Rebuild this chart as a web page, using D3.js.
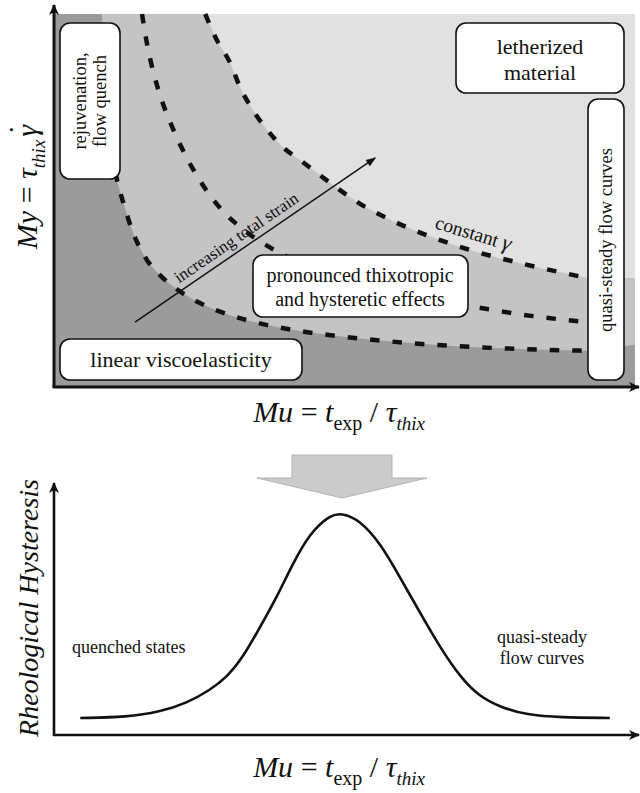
<!DOCTYPE html>
<html>
<head>
<meta charset="utf-8">
<script src="https://cdn.jsdelivr.net/npm/d3@7"></script>
<style>
  html, body { margin: 0; padding: 0; background: #fff; }
</style>
</head>
<body>
<svg id="chart" width="640" height="793"></svg>
<script>
// ---------- Regime map (upper panel), coordinates in (Mu, My) units ----------
// Boundary between the lightest regime and the thixotropic regime (constant gamma line)
const outerMu = [2.59, 2.79, 3.02, 3.19, 3.41, 3.66, 3.93, 4.22, 4.45, 4.86, 5.26, 5.72, 6.41, 7.10, 8.02, 8.76, 9.19];
const outerMy = [10.00, 9.30, 8.69, 8.04, 7.43, 6.89, 6.43, 6.09, 5.82, 5.34, 4.91, 4.53, 4.07, 3.70, 3.32, 3.06, 2.92];
// Intermediate constant-strain line
const middleMu = [1.50, 1.59, 1.71, 1.84, 2.00, 2.17, 2.38, 2.62, 2.88, 3.19, 3.53, 3.88, 4.74, 5.95, 7.45, 8.24, 9.19];
const middleMy = [10.00, 9.17, 8.36, 7.69, 7.05, 6.46, 5.84, 5.25, 4.74, 4.29, 3.91, 3.59, 3.03, 2.52, 2.09, 1.90, 1.74];
// Boundary between the linear regime and the thixotropic regime
const innerMu = [0.81, 0.84, 0.90, 0.97, 1.07, 1.19, 1.34, 1.55, 1.81, 2.12, 2.50, 3.07, 3.66, 4.22, 4.86, 5.72, 6.86, 8.02, 9.19];
const innerMy = [10.00, 8.77, 7.43, 6.35, 5.55, 4.88, 4.16, 3.49, 3.00, 2.60, 2.25, 1.90, 1.66, 1.50, 1.37, 1.23, 1.10, 1.02, 0.97];
// Band levels on the right-hand edge (Mu = 10)
const edgeLevels = { outer: 2.92, inner: 1.13 };
// Direction of increasing total strain
const strainArrowMu = [1.38, 5.52];
const strainArrowMy = [1.74, 6.14];

// ---------- Hysteresis curve (lower panel) ----------
const hystMu  = [0.47, 1.28, 1.84, 2.31, 2.71, 3.00, 3.28, 3.57, 3.86, 4.14, 4.43, 4.78, 4.97, 5.29, 5.64, 5.98, 6.33, 6.67, 7.02, 7.36, 7.71, 8.17, 8.74, 9.60];
const hystVal = [0.68, 0.72, 0.92, 1.28, 1.80, 2.32, 3.12, 4.32, 5.52, 6.88, 8.08, 8.80, 8.88, 8.60, 7.68, 6.32, 4.88, 3.52, 2.32, 1.52, 1.12, 0.80, 0.70, 0.68];

const zip = (a, b) => a.map((v, i) => [v, b[i]]);
const outerPts  = zip(outerMu, outerMy);
const middlePts = zip(middleMu, middleMy);
const innerPts  = zip(innerMu, innerMy);
const hystPts   = zip(hystMu, hystVal);

const SERIF = "'Liberation Serif', 'DejaVu Serif', 'Times New Roman', Times, serif";
const svg = d3.select("#chart").style("font-family", SERIF);
const INK = "#111";
const DARK = "#9b9b9b", MID = "#c4c4c4", LIGHT = "#e1e1e1";

// Scales
const xT = d3.scaleLinear().domain([0, 10]).range([55, 635]);
const yT = d3.scaleLinear().domain([0, 10]).range([387, 14]);
const xB = d3.scaleLinear().domain([0, 10]).range([53, 633]);
const yB = d3.scaleLinear().domain([0, 10]).range([735, 485]);

// Arrow markers
const defs = svg.append("defs");
defs.append("marker").attr("id", "axisHead")
  .attr("viewBox", "-12 -6 14 12").attr("refX", 0).attr("refY", 0)
  .attr("markerUnits", "userSpaceOnUse").attr("markerWidth", 14).attr("markerHeight", 12)
  .attr("orient", "auto")
  .append("path").attr("d", "M1,0 L-10,-5 L-7,0 L-10,5 Z").attr("fill", INK);
defs.append("marker").attr("id", "thinHead")
  .attr("viewBox", "-11 -5 12 10").attr("refX", 0).attr("refY", 0)
  .attr("markerUnits", "userSpaceOnUse").attr("markerWidth", 12).attr("markerHeight", 10)
  .attr("orient", "auto")
  .append("path").attr("d", "M1,0 L-9,-3.8 L-9,3.8 Z").attr("fill", INK);

// Every text node gets the serif stack explicitly
function txt(sel) { return sel.append("text").style("font-family", SERIF); }

// ---------- Upper panel: regime bands ----------
const upper = svg.append("g");
upper.append("rect")
  .attr("x", xT(0)).attr("y", yT(10))
  .attr("width", xT(10) - xT(0)).attr("height", yT(0) - yT(10))
  .attr("fill", DARK);

const bandLine = d3.line().x(d => xT(d[0])).y(d => yT(d[1])).curve(d3.curveMonotoneX);

upper.append("path")
  .attr("d", bandLine(innerPts) + `L${xT(10)},${yT(edgeLevels.inner)}L${xT(10)},${yT(10)}Z`)
  .attr("fill", MID);
upper.append("path")
  .attr("d", bandLine(outerPts) + `L${xT(10)},${yT(edgeLevels.outer)}L${xT(10)},${yT(10)}Z`)
  .attr("fill", LIGHT);

// Dashed constant-strain lines
[outerPts, middlePts, innerPts.slice(3)].forEach(pts => {
  upper.append("path")
    .attr("d", bandLine(pts))
    .attr("fill", "none").attr("stroke", INK)
    .attr("stroke-width", 4.5).attr("stroke-dasharray", "9.5,13");
});

// Increasing total strain arrow
const sa = zip(strainArrowMu, strainArrowMy);
upper.append("line")
  .attr("x1", xT(sa[0][0])).attr("y1", yT(sa[0][1]))
  .attr("x2", xT(sa[1][0])).attr("y2", yT(sa[1][1]))
  .attr("stroke", INK).attr("stroke-width", 1.5)
  .attr("marker-end", "url(#thinHead)");
{
  const x1 = xT(sa[0][0]), y1 = yT(sa[0][1]), x2 = xT(sa[1][0]), y2 = yT(sa[1][1]);
  const ang = Math.atan2(y2 - y1, x2 - x1);
  const ux = Math.cos(ang), uy = Math.sin(ang);
  const along = 58, off = 7;
  const px = x1 + ux * along + uy * off, py = y1 + uy * along - ux * off;
  txt(upper)
    .attr("transform", `translate(${px},${py}) rotate(${ang * 180 / Math.PI})`)
    .attr("font-size", 17).attr("fill", INK)
    .text("increasing total strain");
}

// "constant γ" label
const cg = txt(upper)
  .attr("transform", "translate(434,228) rotate(17)")
  .attr("font-size", 19.5).attr("fill", INK);
cg.append("tspan").text("constant ");
cg.append("tspan").attr("font-style", "italic").attr("font-size", 22).text("γ");

// Annotation boxes
function box(x, y, w, h) {
  upper.append("rect").attr("x", x).attr("y", y).attr("width", w).attr("height", h)
    .attr("rx", 10).attr("ry", 10)
    .attr("fill", "#fff").attr("stroke", INK).attr("stroke-width", 1.6);
}
function lines(cx, baselines, txts, size, rotate) {
  const g = upper.append("g").attr("transform", rotate ? `translate(${cx[0]},${cx[1]}) rotate(-90)` : null);
  txts.forEach((t, i) => {
    txt(g)
      .attr("x", rotate ? 0 : cx)
      .attr("y", baselines[i])
      .attr("text-anchor", "middle").attr("font-size", size).attr("fill", INK)
      .text(t);
  });
}

box(60, 23, 60, 156);
lines([90, 101], [-4, 16], ["rejuvenation,", "flow quench"], 18.5, true);

box(456, 23, 168, 70);
lines(540, [54, 80], ["letherized", "material"], 22, false);

box(588, 99, 36, 281);
lines([606, 240], [6], ["quasi-steady flow curves"], 18.5, true);

box(253, 255, 215, 62);
lines(360, [282, 306], ["pronounced thixotropic", "and hysteretic effects"], 20, false);

box(60, 339, 242, 41);
lines(181, [367], ["linear viscoelasticity"], 22, false);

// Axes of upper panel
upper.append("line")
  .attr("x1", xT(0) - 1).attr("y1", yT(0)).attr("x2", xT(0) - 1).attr("y2", 5)
  .attr("stroke", INK).attr("stroke-width", 3).attr("marker-end", "url(#axisHead)");
upper.append("line")
  .attr("x1", xT(0) - 2.5).attr("y1", yT(0)).attr("x2", 639).attr("y2", yT(0))
  .attr("stroke", INK).attr("stroke-width", 3).attr("marker-end", "url(#axisHead)");

// Axis titles (math style)
function muLabel(baseline) {
  const t = txt(svg)
    .attr("x", 339).attr("y", baseline).attr("text-anchor", "middle")
    .attr("font-size", 30).attr("fill", INK);
  t.append("tspan").attr("font-style", "italic").text("Mu");
  t.append("tspan").text(" = ");
  t.append("tspan").attr("font-style", "italic").text("t");
  t.append("tspan").attr("font-size", 20).attr("dy", 8).text("exp");
  t.append("tspan").attr("dy", -8).text(" / ");
  t.append("tspan").attr("font-style", "italic").text("τ");
  t.append("tspan").attr("font-style", "italic").attr("font-size", 19).attr("dy", 8).text("thix");
}
muLabel(422);

{
  const t = txt(svg)
    .attr("transform", "translate(37,187) rotate(-90)")
    .attr("text-anchor", "middle").attr("font-size", 30).attr("fill", INK);
  t.append("tspan").attr("font-style", "italic").text("My");
  t.append("tspan").text(" = ");
  t.append("tspan").attr("font-style", "italic").text("τ");
  t.append("tspan").attr("font-style", "italic").attr("font-size", 19).attr("dy", 8).text("thix");
  t.append("tspan").attr("font-style", "italic").attr("dy", -8).attr("dx", 3).text("γ");
  t.append("tspan").attr("dx", -10).attr("dy", -7).text("˙");
}

// ---------- Transition arrow ----------
svg.append("path")
  .attr("d", "M292,455 L392,455 L392,478 L427,478 L342,498 L257,478 L292,478 Z")
  .attr("fill", "#cbcbcb").attr("stroke", "#b3b3b3").attr("stroke-width", 1);

// ---------- Lower panel ----------
const lower = svg.append("g");
lower.append("path")
  .attr("d", d3.line().x(d => xB(d[0])).y(d => yB(d[1])).curve(d3.curveBasis)(hystPts))
  .attr("fill", "none").attr("stroke", INK).attr("stroke-width", 2.6);

lower.append("line")
  .attr("x1", xB(0) + 1).attr("y1", yB(0) + 1).attr("x2", xB(0) + 1).attr("y2", 483)
  .attr("stroke", INK).attr("stroke-width", 2.6).attr("marker-end", "url(#axisHead)");
lower.append("line")
  .attr("x1", xB(0)).attr("y1", yB(0)).attr("x2", 639).attr("y2", yB(0))
  .attr("stroke", INK).attr("stroke-width", 2.6).attr("marker-end", "url(#axisHead)");

txt(lower).attr("x", 72).attr("y", 653)
  .attr("font-size", 18).attr("fill", INK).text("quenched states");
txt(lower).attr("x", 542).attr("y", 643).attr("text-anchor", "middle")
  .attr("font-size", 18).attr("fill", INK).text("quasi-steady");
txt(lower).attr("x", 542).attr("y", 664).attr("text-anchor", "middle")
  .attr("font-size", 18).attr("fill", INK).text("flow curves");

txt(lower)
  .attr("transform", "translate(38,608) rotate(-90)")
  .attr("text-anchor", "middle").attr("font-size", 28).attr("font-style", "italic")
  .attr("fill", INK).text("Rheological Hysteresis");

muLabel(777);
</script>
</body>
</html>
